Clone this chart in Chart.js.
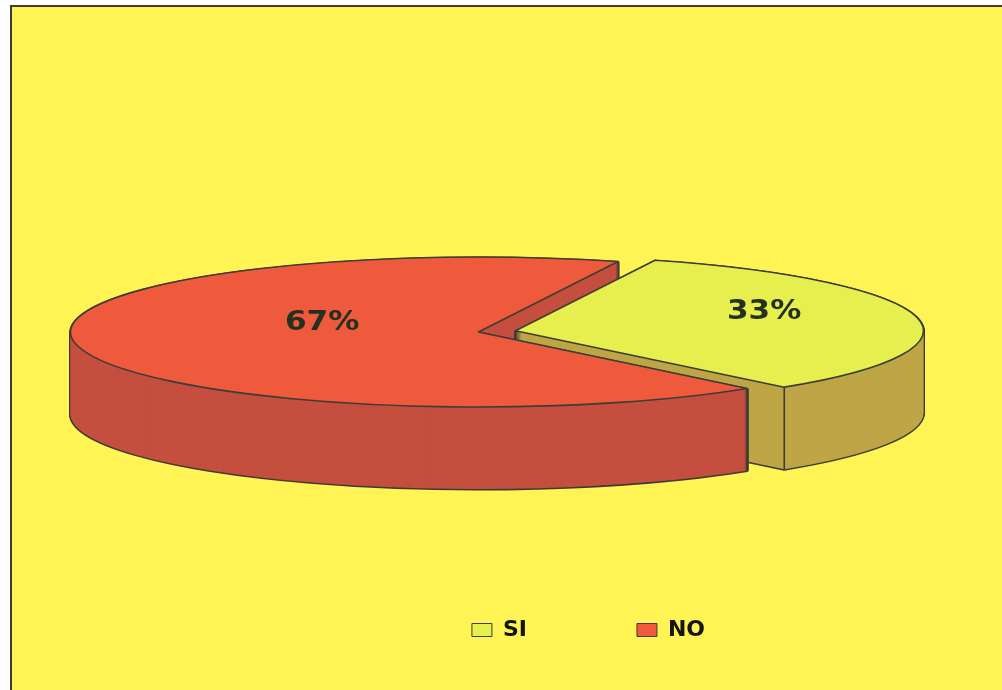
<!DOCTYPE html>
<html>
<head>
<meta charset="utf-8">
<script src="https://cdn.jsdelivr.net/npm/chart.js@4.4.1/dist/chart.umd.min.js"></script>
<style>
  html, body { margin: 0; padding: 0; background: #ffffff; }
  #wrap { width: 1002px; height: 690px; position: relative; }
</style>
</head>
<body>
<div id="wrap"><canvas id="pieChart"></canvas></div>
<script>
// data
const categories = ['SI', 'NO'];
const percentages = [33, 67];

const topColours = ['#E6EF4E', '#EF5A3D'];
const sideColours = ['#BEA546', '#C54F3F'];

const TAU = Math.PI * 2;

// parts of [s, e] that fall inside [from, to] (mod 2pi)
function angleParts(s, e, from, to) {
    const out = [];
    for (let k = -1; k <= 1; k++) {
        const lo = Math.max(s, from + TAU * k), hi = Math.min(e, to + TAU * k);
        if (hi > lo) out.push([lo, hi]);
    }
    return out;
}

// fake 3d: flatten the pie, stack it for the side, then paint the top
const pie3d = {
    id: 'pie3d',
    beforeDraw(chart, args, opts) {
        const ctx = chart.ctx;
        ctx.save();
        ctx.fillStyle = '#ffffff';
        ctx.fillRect(0, 0, chart.width, chart.height);
        ctx.fillStyle = opts.background;
        ctx.fillRect(11, 6, chart.width - 11, chart.height - 6);
        ctx.strokeStyle = '#3d3d36';
        ctx.lineWidth = 2;
        ctx.beginPath();
        ctx.moveTo(11, chart.height);
        ctx.lineTo(11, 6);
        ctx.lineTo(chart.width, 6);
        ctx.stroke();
        ctx.restore();
    },
    beforeDatasetsDraw(chart, args, opts) {
        const ctx = chart.ctx;
        const arcs = chart.getDatasetMeta(0).data;
        const R = arcs[0].outerRadius;
        const cx = arcs[0].x, cy = arcs[0].y;
        const sx = opts.radiusX / R, sy = opts.radiusY / R;

        // explode offset of each slice, done here so split pieces keep it
        const push = arcs.map(arc => {
            const mid = (arc.startAngle + arc.endAngle) / 2;
            const o = (arc.options.offset || 0) / 4;
            return [Math.cos(mid) * o, Math.sin(mid) * o];
        });

        function paint(i, colour, d, range, stroke, lw) {
            const arc = arcs[i];
            const o = arc.options, s0 = arc.startAngle, e0 = arc.endAngle;
            arc.options = Object.assign({}, o, { backgroundColor: colour, borderWidth: 0, offset: 0 });
            if (range) { arc.startAngle = range[0]; arc.endAngle = range[1]; }
            ctx.save();
            ctx.translate(cx + opts.shiftX, cy + opts.shiftY + d);
            ctx.scale(sx, sy);
            ctx.translate(-cx + push[i][0], -cy + push[i][1]);
            arc.draw(ctx);
            ctx.restore();
            arc.options = o; arc.startAngle = s0; arc.endAngle = e0;
            if (stroke) {
                ctx.save();
                ctx.lineWidth = lw;
                ctx.strokeStyle = stroke;
                ctx.lineJoin = 'round';
                ctx.stroke();
                ctx.restore();
            }
        }
        function side(i, range) {
            for (let d = opts.depth; d > 0; d--) paint(i, opts.edge, d, range, opts.edge, 3);
            for (let d = opts.depth; d > 0; d--) paint(i, opts.sideColours[i], d, range);
        }
        function corners(i) {
            const arc = arcs[i];
            ctx.save();
            ctx.strokeStyle = opts.edge;
            ctx.lineWidth = 1.6;
            [arc.startAngle, arc.endAngle].forEach(a => {
                if (Math.sin(a) <= 0.05) return;
                const x = cx + opts.shiftX + (Math.cos(a) * R + push[i][0]) * sx;
                const y = cy + opts.shiftY + (Math.sin(a) * R + push[i][1]) * sy;
                ctx.beginPath();
                ctx.moveTo(x, y);
                ctx.lineTo(x, y + opts.depth);
                ctx.stroke();
            });
            ctx.restore();
        }

        // back half of the walls first, then the front half, then the tops
        arcs.forEach((arc, i) => angleParts(arc.startAngle, arc.endAngle, Math.PI, TAU).forEach(r => side(i, r)));
        arcs.forEach((arc, i) => {
            angleParts(arc.startAngle, arc.endAngle, 0, Math.PI).forEach(r => side(i, r));
            corners(i);
        });
        arcs.forEach((arc, i) => paint(i, arc.options.backgroundColor, 0, null, opts.edge, 1.6));

        // percentage labels
        const data = chart.data.datasets[0].data;
        const total = data.reduce((a, b) => a + b, 0);
        ctx.save();
        ctx.font = 'bold 27px "DejaVu Sans"';
        ctx.fillStyle = '#25301f';
        ctx.textAlign = 'center';
        ctx.textBaseline = 'middle';
        arcs.forEach((arc, i) => {
            const mid = (arc.startAngle + arc.endAngle) / 2;
            const r = R * opts.labelRadius[i];
            const px = Math.cos(mid) * r + push[i][0], py = Math.sin(mid) * r + push[i][1];
            const x = cx + opts.shiftX + px * sx;
            const y = cy + opts.shiftY + py * sy - opts.labelLift[i];
            ctx.save();
            ctx.translate(x, y);
            ctx.scale(1.15, 1);
            ctx.fillText(Math.round(data[i] / total * 100) + '%', 0, 0);
            ctx.restore();
        });
        ctx.restore();
        return false;
    }
};

new Chart(document.getElementById('pieChart'), {
    type: 'pie',
    data: {
        labels: categories,
        datasets: [{
            data: percentages,
            backgroundColor: topColours,
            borderColor: '#3d3d36',
            borderWidth: 1,
            offset: [55, 0]
        }]
    },
    options: {
        responsive: true,
        maintainAspectRatio: false,
        animation: false,
        events: [],
        rotation: 20,
        layout: { padding: { top: 155, left: 190, right: 15, bottom: 39 } },
        plugins: {
            tooltip: { enabled: false },
            legend: {
                position: 'bottom',
                labels: {
                    boxWidth: 20,
                    boxHeight: 13,
                    padding: 110,
                    color: '#141414',
                    font: { family: 'DejaVu Sans', weight: 'bold', size: 22 }
                }
            },
            pie3d: {
                background: '#FFF453',
                radiusX: 408,
                radiusY: 75,
                depth: 82,
                shiftX: -110,
                shiftY: 0,
                edge: '#3d3d36',
                sideColours: sideColours,
                labelRadius: [0.62, 0.39],
                labelLift: [10, 14]
            }
        }
    },
    plugins: [pie3d]
});
</script>
</body>
</html>
